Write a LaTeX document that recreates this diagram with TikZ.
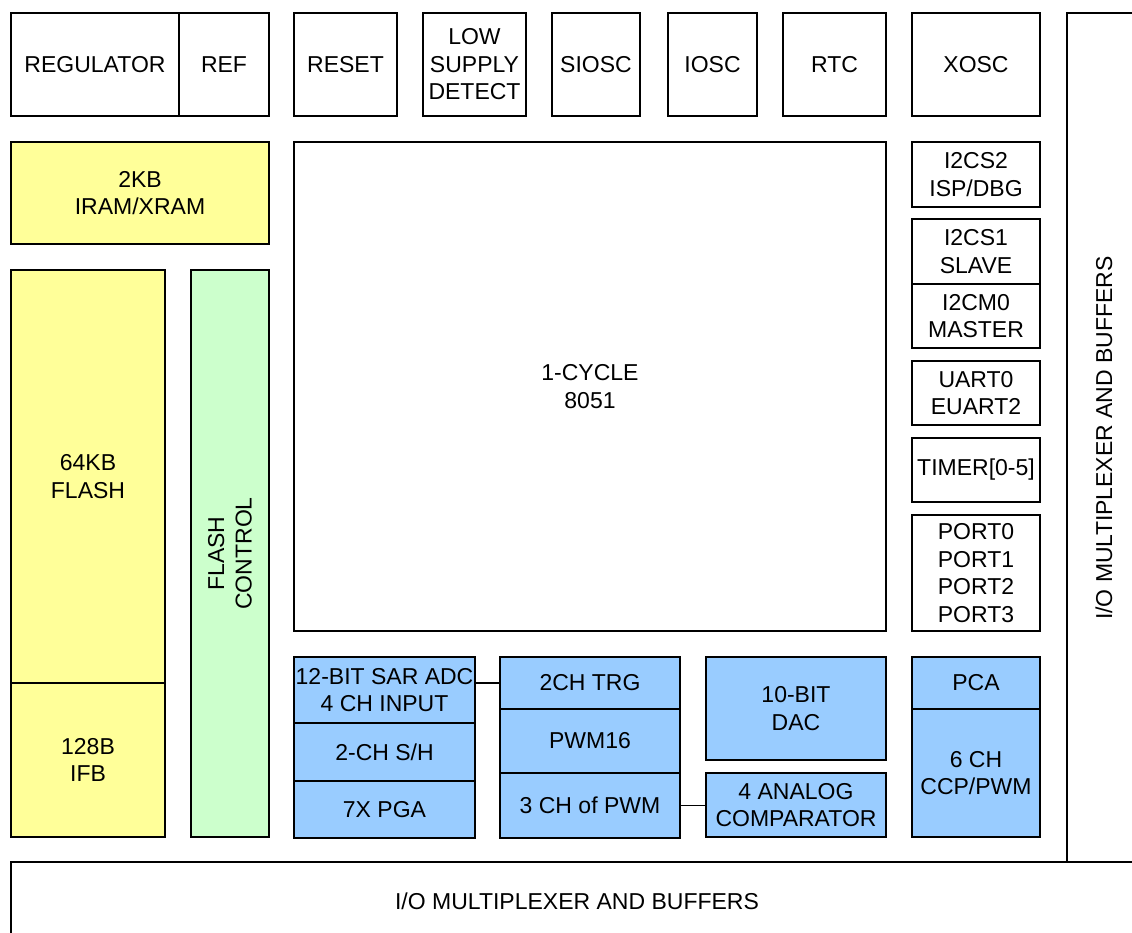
\documentclass[tikz,border=0pt]{standalone}
\usepackage{fontspec}
\setmainfont{Liberation Sans}
\newcommand\blkfont{\fontsize{23}{27.5}\selectfont}
\definecolor{memyel}{HTML}{FFFF99}
\definecolor{ctlgrn}{HTML}{CCFFCC}
\definecolor{periblue}{HTML}{99CCFF}
% \blkbox{name}{style}{x1}{y1}{x2}{y2}{text}
\newcommand\blkbox[7]{%
  \node[#2, minimum width={(#5-#3)*1pt}, minimum height={(#6-#4)*1pt}]
    (#1) at ({(#3+#5)/2},{(#4+#6)/2}) {#7};}
\begin{document}
\begin{tikzpicture}[x=1pt,y=-1pt,
  blk/.style={draw, line width=1.6pt, inner sep=0pt, outer sep=0pt, align=center, font=\blkfont},
  yelblk/.style={blk, fill=memyel},
  grnblk/.style={blk, fill=ctlgrn},
  blublk/.style={blk, fill=periblue},
  lbl/.style={inner sep=0pt, align=center, font=\blkfont},
  conn/.style={line width=1.8pt}]
\useasboundingbox (0,0) rectangle (1132,933);
\clip (0,0) rectangle (1132,933);
% top row
\blkbox{reg}{blk}{11}{13}{179}{116}{REGULATOR}
\blkbox{ref}{blk}{179}{13}{269}{116}{REF}
\blkbox{reset}{blk}{294}{13}{397}{116}{RESET}
\blkbox{lsd}{blk}{423}{13}{526}{116}{LOW\\SUPPLY\\DETECT}
\blkbox{siosc}{blk}{552}{13}{640}{116}{SIOSC}
\blkbox{iosc}{blk}{668}{13}{757}{116}{IOSC}
\blkbox{rtc}{blk}{783}{13}{886}{116}{RTC}
\blkbox{xosc}{blk}{912}{13}{1040}{116}{XOSC}
% memory
\blkbox{ram}{yelblk}{11}{142}{269}{244}{2KB\\IRAM/XRAM}
\blkbox{flash}{yelblk}{11}{270}{165}{683}{64KB\\FLASH}
\blkbox{ifb}{yelblk}{11}{683}{165}{837}{128B\\IFB}
\blkbox{fctl}{grnblk}{191}{270}{269}{837}{}
\node[lbl, rotate=90] (fctltxt) at (fctl.center) {FLASH\\CONTROL};
% core
\blkbox{core}{blk}{294}{142}{886}{631}{1-CYCLE\\8051}
% right column
\blkbox{i2cs2}{blk}{912}{142}{1040}{207}{I2CS2\\ISP/DBG}
\blkbox{i2cs1}{blk}{912}{219}{1040}{284}{I2CS1\\SLAVE}
\blkbox{i2cm0}{blk}{912}{284}{1040}{348}{I2CM0\\MASTER}
\blkbox{uart}{blk}{912}{361}{1040}{425}{UART0\\EUART2}
\blkbox{timer}{blk}{912}{438}{1040}{502}{TIMER[0-5]}
\blkbox{port}{blk}{912}{515}{1040}{631}{PORT0\\PORT1\\PORT2\\PORT3}
% analog / peripherals
\blkbox{adc}{blublk}{294}{657}{475}{723}{12-BIT SAR ADC\\4 CH INPUT}
\blkbox{sh}{blublk}{294}{723}{475}{781}{2-CH S/H}
\blkbox{pga}{blublk}{294}{781}{475}{838}{7X PGA}
\blkbox{trg}{blublk}{500}{657}{680}{709}{2CH TRG}
\blkbox{pwm16}{blublk}{500}{709}{680}{773}{PWM16}
\blkbox{pwm3}{blublk}{500}{773}{680}{838}{3 CH of PWM}
\blkbox{dac}{blublk}{706}{657}{886}{760}{10-BIT\\DAC}
\blkbox{comp}{blublk}{706}{773}{886}{837}{4 ANALOG\\COMPARATOR}
\blkbox{pca}{blublk}{912}{657}{1040}{709}{PCA}
\blkbox{ccp}{blublk}{912}{709}{1040}{837}{6 CH\\CCP/PWM}
% I/O buffers
\blkbox{iov}{blk}{1067}{13}{1145}{862}{}
\node[lbl, rotate=90] (iovtxt) at (1104,438) {I/O MULTIPLEXER AND BUFFERS};
\blkbox{ioh}{blk}{11}{862}{1145}{950}{}
\node[lbl] (iohtxt) at (577,901) {I/O MULTIPLEXER AND BUFFERS};
% connectors
\draw[conn] (trg.west) -- (trg.west -| adc.east);
\draw[conn] (pwm3.east) -- (pwm3.east -| comp.west);
\end{tikzpicture}
\end{document}
